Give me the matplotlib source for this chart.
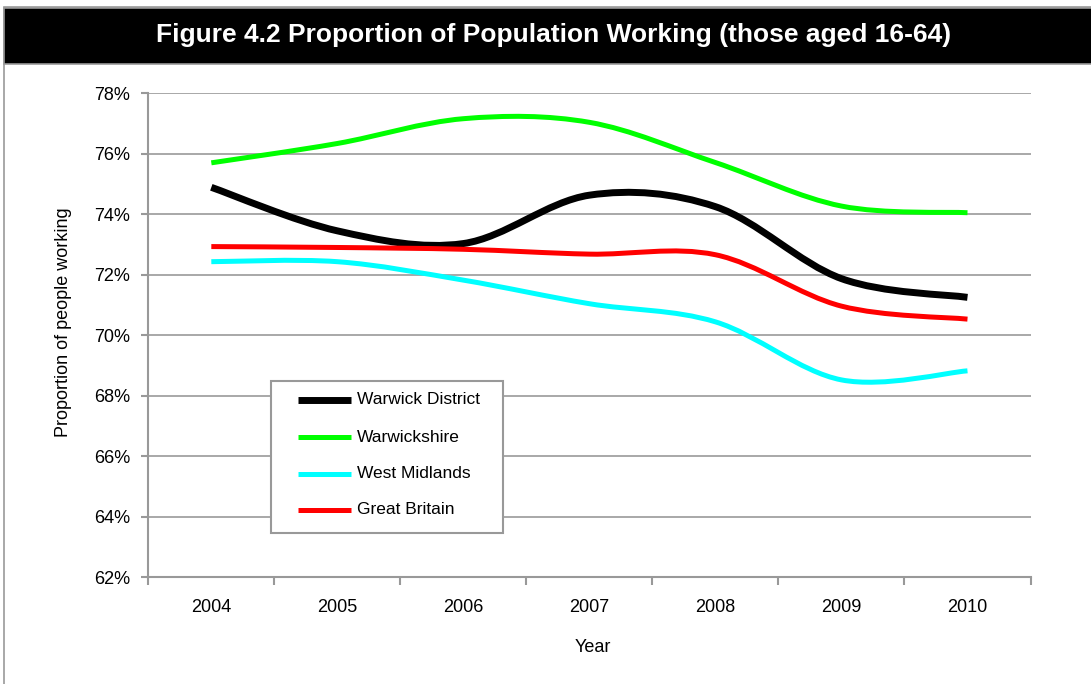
import matplotlib
matplotlib.use("Agg")
import matplotlib.pyplot as plt
from matplotlib.path import Path
from matplotlib.patches import PathPatch, Rectangle
from matplotlib.lines import Line2D
import numpy as np

plt.rcParams['font.family'] = ['Liberation Sans', 'DejaVu Sans']

# ---------------- data ----------------
years = ["2004", "2005", "2006", "2007", "2008", "2009", "2010"]
series_names = ["Warwick District", "Warwickshire", "West Midlands", "Great Britain"]
warwick_district = [74.89, 73.45, 73.03, 74.63, 74.25, 71.87, 71.25]
warwickshire = [75.70, 76.34, 77.16, 77.04, 75.71, 74.27, 74.05]
west_midlands = [72.43, 72.43, 71.82, 71.04, 70.44, 68.52, 68.82]
great_britain = [72.93, 72.90, 72.84, 72.68, 72.66, 70.96, 70.53]
y_ticks = [62, 64, 66, 68, 70, 72, 74, 76, 78]

title = "Figure 4.2 Proportion of Population Working (those aged 16-64)"
x_label = "Year"
y_label = "Proportion of people working"

colors = ["#000000", "#00FF00", "#00FFFF", "#FF0000"]
widths = [5.0, 3.6, 3.6, 3.6]

W, H = 1091, 684
fig = plt.figure(figsize=(W / 100, H / 100), dpi=100)

def fx(px):
    return px / W

def fy(py):
    return 1 - py / H

# outer frame and title bar
fig.patches.append(Rectangle((fx(4), fy(700)), fx(1100) - fx(4), fy(7) - fy(700),
                             transform=fig.transFigure, facecolor="white",
                             edgecolor="#999999", lw=1.2, zorder=-3))
fig.patches.append(Rectangle((fx(4), fy(64)), fx(1100) - fx(4), fy(8) - fy(64),
                             transform=fig.transFigure, facecolor="black",
                             edgecolor="#999999", lw=1.2, zorder=-2))
fig.text(fx(554), fy(35), title, color="white", fontsize=19, fontweight="bold",
         ha="center", va="center")

left, right, top, bottom = 148.3, 1030.5, 93.3, 577.0
ax = fig.add_axes([fx(left), fy(bottom), fx(right) - fx(left), fy(top) - fy(bottom)])
ax.set_facecolor("none")
ax.set_zorder(2)

x = np.arange(len(years))
all_series = [warwick_district, warwickshire, west_midlands, great_britain]

def smooth_path(xs, ys):
    pts = np.column_stack([xs, ys]).astype(float)
    verts = [pts[0]]
    codes = [Path.MOVETO]
    n = len(pts)
    for i in range(n - 1):
        p0 = pts[i - 1] if i > 0 else pts[i]
        p1 = pts[i]
        p2 = pts[i + 1]
        p3 = pts[i + 2] if i + 2 < n else pts[i + 1]
        c1 = p1 + (p2 - p0) / 6.0
        c2 = p2 - (p3 - p1) / 6.0
        verts += [c1, c2, p2]
        codes += [Path.CURVE4] * 3
    return Path(verts, codes)

for name, vals, c, lw in zip(series_names, all_series, colors, widths):
    patch = PathPatch(smooth_path(x, vals), facecolor="none", edgecolor=c, lw=lw,
                      capstyle="butt", joinstyle="round", zorder=3)
    ax.add_patch(patch)

ax.set_xlim(-0.5, len(years) - 0.5)
ax.set_ylim(y_ticks[0], y_ticks[-1])
ax.set_yticks(y_ticks)
ax.set_yticklabels([f"{v}%" for v in y_ticks])
ax.set_xticks(x)
ax.set_xticklabels(years)
ax.set_xticks(np.arange(len(years) + 1) - 0.5, minor=True)

for v in y_ticks[1:]:
    ax.axhline(v, color="#999999", lw=1.2, zorder=1)

for s in ["top", "right"]:
    ax.spines[s].set_visible(False)
for s in ["left", "bottom"]:
    ax.spines[s].set_color("#999999")
    ax.spines[s].set_linewidth(1.5)

ax.tick_params(axis="y", which="major", direction="out", length=5, width=1.5,
               color="#999999", labelsize=13, pad=8)
ax.tick_params(axis="x", which="major", length=0, labelsize=13, pad=16)
ax.tick_params(axis="x", which="minor", direction="out", length=6, width=1.5,
               color="#999999")

fig.text(fx(593), fy(648), x_label, fontsize=13, ha="center", va="center")
fig.text(fx(63), fy(322), y_label, fontsize=13, ha="center", va="center",
         rotation=90)

# legend (drawn in axes coordinates)
def ax_x(px):
    return (px - left) / (right - left)

def ax_y(py):
    return 1 - (py - top) / (bottom - top)

ax.add_patch(Rectangle((ax_x(271), ax_y(533)), ax_x(503) - ax_x(271),
                       ax_y(381) - ax_y(533), transform=ax.transAxes,
                       facecolor="white", edgecolor="#999999", lw=1.5, zorder=5))
entry_y = [400, 437, 474, 510]
for name, c, lw, py in zip(series_names, colors, widths, entry_y):
    ax.add_line(Line2D([ax_x(298), ax_x(351)], [ax_y(py), ax_y(py)],
                       transform=ax.transAxes, color=c, lw=lw,
                       solid_capstyle="butt", zorder=6))
    ax.text(ax_x(357), ax_y(py), name, transform=ax.transAxes, fontsize=12.5,
            ha="left", va="center", zorder=6)

fig.savefig("out.png", dpi=100)
